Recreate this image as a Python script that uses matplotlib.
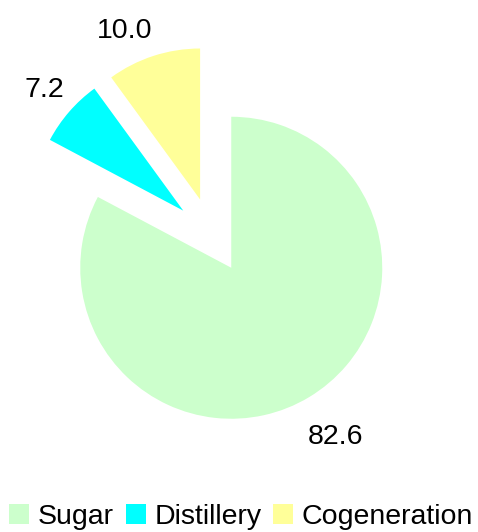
import matplotlib
matplotlib.use("Agg")
import matplotlib.pyplot as plt
from matplotlib.patches import Patch

plt.rcParams['font.family'] = ['Liberation Sans', 'DejaVu Sans']

# data
categories = ["Sugar", "Distillery", "Cogeneration"]
values = [82.6, 7.2, 10.0]
colors = ["#CCFFCC", "#00FFFF", "#FFFF99"]
value_labels = [f"{v:.1f}" for v in values]

fig = plt.figure(figsize=(4.78, 5.32), dpi=100)
ax = fig.add_axes([0, 0, 1, 1])

wedges, texts = ax.pie(values, colors=colors, labels=value_labels,
                       startangle=90, counterclock=False,
                       explode=[0.25, 0.25, 0.25], labeldistance=1.22,
                       radius=1.0, textprops={'fontsize': 20.5})
for t in texts:
    t.set_ha('center')
    t.set_va('center')
# small nudges of the labels, like the original
nudges = [(0.06, -0.073), (0.0, 0.0), (-0.12, -0.045)]
for t, (dx, dy) in zip(texts, nudges):
    x0, y0 = t.get_position()
    t.set_position((x0 + dx, y0 + dy))

ax.set_xlim(-1.4026, 1.7629)
ax.set_ylim(-1.9642, 1.5589)
ax.axis('off')

handles = [Patch(facecolor=c, edgecolor='none') for c in colors]
fig.legend(handles, categories, loc='center', bbox_to_anchor=(0.505, 0.028),
           ncol=3, frameon=False, fontsize=20.5, handlelength=0.7,
           handleheight=0.7, handletextpad=0.3, columnspacing=0.42,
           borderpad=0, borderaxespad=0)

fig.savefig("out.png", dpi=100)
